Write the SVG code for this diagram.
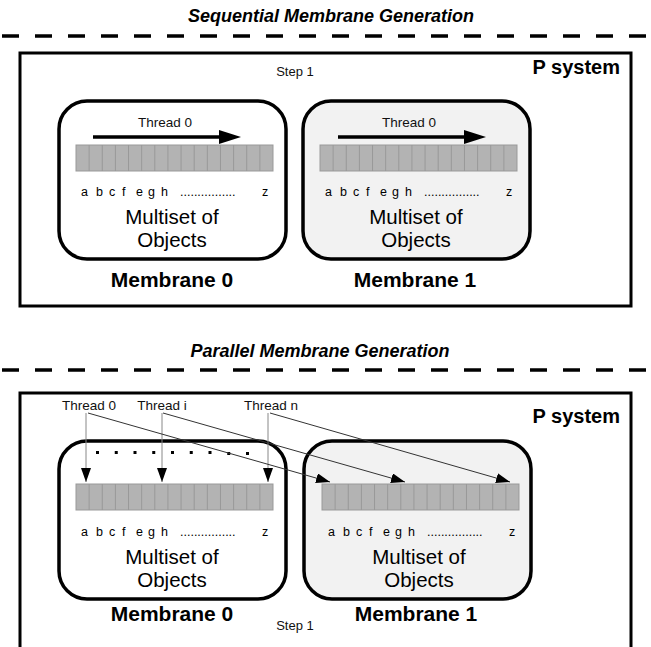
<svg xmlns="http://www.w3.org/2000/svg" width="651" height="647" viewBox="0 0 651 647">
<style>
text{font-family:"Liberation Sans",Arial,sans-serif;fill:#000}
.title{font-size:18px;font-weight:bold;font-style:italic}
.psys{font-size:20px;font-weight:bold}
.mlabel{font-size:21px;font-weight:bold;text-anchor:middle}
.multi{font-size:20.5px;text-anchor:middle}
.thread{font-size:13.5px;text-anchor:middle;fill:#111}
.step{font-size:13px;text-anchor:middle;fill:#111}
.letters{font-size:12.5px}
.dash{stroke:#000;stroke-width:3.5;stroke-dasharray:17 16;fill:none}
.box{fill:#fff;stroke:#000;stroke-width:3}
.mem{stroke:#000;stroke-width:3.5}
.arr{fill:#b3b3b3;stroke:#999;stroke-width:1}
.cell{stroke:#999;stroke-width:1}
.vline{stroke:#888;stroke-width:1;fill:none}
.dline{stroke:#333;stroke-width:1;fill:none}
</style>
<defs>
<marker id="ah" viewBox="0 0 14 10" refX="14" refY="5" markerWidth="14" markerHeight="10" markerUnits="userSpaceOnUse" orient="auto">
<path d="M0,0 L14,5 L0,10 Z" fill="#000"/>
</marker>
<g id="cells">
<rect class="arr" x="0" y="0" width="197" height="26"/>
<path class="cell" d="M13.13,0V26M26.27,0V26M39.4,0V26M52.53,0V26M65.67,0V26M78.8,0V26M91.93,0V26M105.07,0V26M118.2,0V26M131.33,0V26M144.47,0V26M157.6,0V26M170.73,0V26M183.87,0V26"/>
</g>
<g id="inner">
<text class="letters" x="22 37 50 63 77 89 102" y="95">abcfegh</text>
<text class="letters" x="121" y="95">................</text>
<text class="letters" x="203" y="95">z</text>
<text class="multi" x="113" y="123">Multiset of</text>
<text class="multi" x="113" y="146">Objects</text>
</g>
</defs>

<text class="title" x="331" y="22" text-anchor="middle">Sequential Membrane Generation</text>
<line class="dash" x1="2" y1="36" x2="651" y2="36"/>

<g id="psystem-top">
<rect class="box" x="20" y="53" width="611" height="253"/>
<text class="psys" x="620" y="74" text-anchor="end">P system</text>
<text class="step" x="295" y="76">Step 1</text>
</g>

<g id="membrane0-top">
<rect class="mem" x="59" y="101" width="227" height="158" rx="28" fill="#fff"/>
<text class="thread" x="165" y="127">Thread 0</text>
<line x1="93" y1="137" x2="222" y2="137" stroke="#000" stroke-width="3.5"/>
<polygon points="219,130 241,137 219,144" fill="#000"/>
<use href="#cells" x="76" y="145"/>
<use href="#inner" x="59" y="101"/>
<text class="mlabel" x="172" y="287">Membrane 0</text>
</g>

<g id="membrane1-top">
<rect class="mem" x="303" y="101" width="227" height="158" rx="28" fill="#f2f2f2"/>
<text class="thread" x="409" y="127">Thread 0</text>
<line x1="338" y1="137" x2="467" y2="137" stroke="#000" stroke-width="3.5"/>
<polygon points="464,130 486,137 464,144" fill="#000"/>
<use href="#cells" x="320" y="145"/>
<use href="#inner" x="303" y="101"/>
<text class="mlabel" x="415" y="287">Membrane 1</text>
</g>

<text class="title" x="320" y="357" text-anchor="middle">Parallel Membrane Generation</text>
<line class="dash" x1="2" y1="370" x2="651" y2="370"/>

<g id="psystem-bottom">
<rect class="box" x="20" y="393" width="611" height="300"/>
<text class="psys" x="620" y="423" text-anchor="end">P system</text>
<text class="step" x="295" y="630">Step 1</text>
</g>

<g id="membrane0-bottom">
<rect class="mem" x="59" y="441" width="227" height="158" rx="28" fill="#fff"/>
<g fill="#000">
<rect x="96" y="451" width="3" height="3"/>
<rect x="114.75" y="451" width="3" height="3"/>
<rect x="133.5" y="451" width="3" height="3"/>
<rect x="152.25" y="451" width="3" height="3"/>
<rect x="171" y="451" width="3" height="3"/>
<rect x="189.75" y="451" width="3" height="3"/>
<rect x="208.5" y="451" width="3" height="3"/>
<rect x="227.25" y="452" width="3" height="3"/>
<rect x="246" y="452" width="3" height="3"/>
</g>
<use href="#cells" x="76" y="484"/>
<use href="#inner" x="59" y="441"/>
<text class="mlabel" x="172" y="621">Membrane 0</text>
</g>

<g id="membrane1-bottom">
<rect class="mem" x="304" y="441" width="227" height="158" rx="28" fill="#f2f2f2"/>
<use href="#cells" x="322" y="484"/>
<use href="#inner" x="306" y="441"/>
<text class="mlabel" x="416" y="621">Membrane 1</text>
</g>

<g id="threads">
<text class="thread" x="89" y="410">Thread 0</text>
<text class="thread" x="162" y="410">Thread i</text>
<text class="thread" x="271" y="410">Thread n</text>
</g>

<g id="connectors">
<line class="vline" x1="86" y1="413" x2="86" y2="482" marker-end="url(#ah)"/>
<line class="vline" x1="162" y1="413" x2="162" y2="482" marker-end="url(#ah)"/>
<line class="vline" x1="268" y1="413" x2="268" y2="482" marker-end="url(#ah)"/>
<line class="dline" x1="88" y1="413" x2="330" y2="482" marker-end="url(#ah)"/>
<line class="dline" x1="163" y1="413" x2="405" y2="482" marker-end="url(#ah)"/>
<line class="dline" x1="270" y1="413" x2="510" y2="482" marker-end="url(#ah)"/>
</g>
</svg>
